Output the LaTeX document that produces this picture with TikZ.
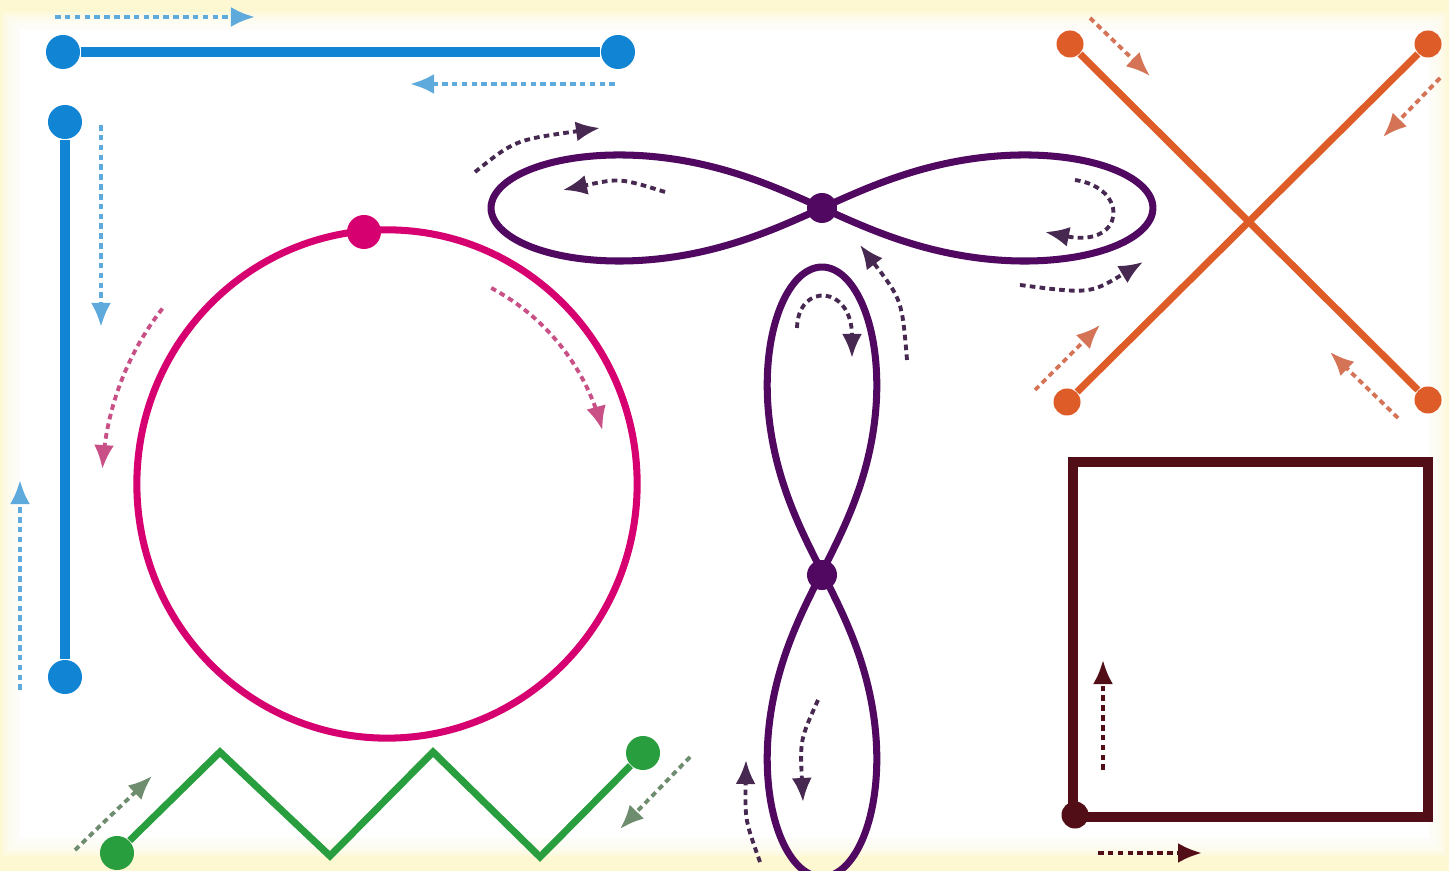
\documentclass[tikz,border=0pt]{standalone}
\usetikzlibrary{arrows.meta}

\definecolor{bgcream}{RGB}{253,247,210}
\definecolor{lineblue}{RGB}{18,132,212}
\definecolor{hintblue}{RGB}{95,170,220}
\definecolor{ringpink}{RGB}{214,0,112}
\definecolor{hintpink}{RGB}{200,80,135}
\definecolor{loopviolet}{RGB}{80,8,96}
\definecolor{hintviolet}{RGB}{70,40,80}
\definecolor{crossorange}{RGB}{222,92,40}
\definecolor{hintorange}{RGB}{212,115,85}
\definecolor{boxbrown}{RGB}{82,14,22}
\definecolor{zigzaggreen}{RGB}{40,158,62}
\definecolor{hintgreen}{RGB}{110,140,110}

\begin{document}
\begin{tikzpicture}[
    x=0.01cm, y=-0.01cm,
    >={Latex[length=2.4mm,width=2mm]},
    dot/.style={circle, fill, inner sep=0pt, minimum size=3.4mm},
    smalldot/.style={circle, fill, inner sep=0pt, minimum size=2.7mm},
    track/.style={line width=2.6pt},
    thintrack/.style={line width=2pt},
    hint/.style={->, line width=1.1pt, dash pattern=on 1.6pt off 1.2pt}
]
\useasboundingbox (0,0) rectangle (1449,871);

% pozadi
\fill[bgcream] (0,0) rectangle (1449,871);
\foreach \i in {0,...,5}
    \fill[white, opacity=0.3] ({2+3*\i},{12+3*\i}) rectangle ({1447-3*\i},{856-3*\i});
\fill[white] (20,30) rectangle (1429,838);

% modre usecky
\node[dot, lineblue] (h1) at (63,52) {};
\node[dot, lineblue] (h2) at (618,52) {};
\draw[track, lineblue] (h1) -- (h2);
\node[dot, lineblue] (v1) at (65,122) {};
\node[dot, lineblue] (v2) at (65,677) {};
\draw[track, lineblue] (v1) -- (v2);

\draw[hint, hintblue] (55,17) -- (255,17);
\draw[hint, hintblue] (615,84) -- (410,84);
\draw[hint, hintblue] (101,125) -- (101,327);
\draw[hint, hintblue] (20,690) -- (20,480);

% kruznice
\draw[thintrack, ringpink] (387,484) ellipse [x radius=2.5cm, y radius=2.54cm];
\node[dot, ringpink] (c1) at (364,232) {};
\draw[hint, hintpink] plot[domain=142:177, samples=25]
    ({387+285*cos(\x)}, {484-285*sin(\x)});
\draw[hint, hintpink, <-] plot[domain=14:62, samples=25]
    ({387+222*cos(\x)}, {484-222*sin(\x)});

% vodorovna osmicka
\draw[thintrack, loopviolet] plot[domain=0:360, samples=160, smooth]
    ({822+331*cos(\x)/(1+sin(\x)^2)}, {208+150*sin(\x)*cos(\x)/(1+sin(\x)^2)});
\node[smalldot, loopviolet, minimum size=3mm] (e1) at (822,208) {};
\draw[hint, hintviolet] (475,172) .. controls (515,140) .. (600,128);
\draw[hint, hintviolet] (665,192) .. controls (620,178) .. (563,190);
\draw[hint, hintviolet] (1075,180) .. controls (1130,188) and (1125,248) .. (1045,232);
\draw[hint, hintviolet] (1020,285) .. controls (1090,294) .. (1143,262);

% svisla osmicka
\draw[thintrack, loopviolet] plot[domain=0:360, samples=160, smooth]
    ({822+155*sin(\x)*cos(\x)/(1+sin(\x)^2)}, {572+305*cos(\x)/(1+sin(\x)^2)});
\node[smalldot, loopviolet, minimum size=3mm] (e2) at (822,575) {};
\draw[hint, hintviolet] (907,360) .. controls (902,300) .. (860,245);
\draw[hint, hintviolet] (797,328) .. controls (798,282) and (852,285) .. (852,358);
\draw[hint, hintviolet] (818,700) .. controls (800,740) .. (803,802);
\draw[hint, hintviolet] (760,862) .. controls (745,820) .. (746,760);

% krizek
\node[smalldot, crossorange] (o1) at (1070,44) {};
\node[smalldot, crossorange] (o2) at (1428,400) {};
\node[smalldot, crossorange] (o3) at (1428,44) {};
\node[smalldot, crossorange] (o4) at (1067,402) {};
\draw[thintrack, crossorange] (o1) -- (o2);
\draw[thintrack, crossorange] (o3) -- (o4);
\draw[hint, hintorange] (1090,18) -- (1150,76);
\draw[hint, hintorange] (1440,78) -- (1383,137);
\draw[hint, hintorange] (1035,390) -- (1100,325);
\draw[hint, hintorange] (1398,418) -- (1330,352);

% ctverec
\draw[track, boxbrown] (1073,462) rectangle (1428,817);
\node[smalldot, boxbrown] (s1) at (1075,815) {};
\draw[hint, boxbrown] (1103,770) -- (1103,660);
\draw[hint, boxbrown] (1098,853) -- (1202,853);

% cik-cak
\node[dot, zigzaggreen] (g1) at (117,853) {};
\node[dot, zigzaggreen] (g2) at (643,753) {};
\coordinate (z1) at (220,752);
\coordinate (z2) at (330,856);
\coordinate (z3) at (433,752);
\coordinate (z4) at (540,857);
\draw[thintrack, zigzaggreen, line join=miter] (g1) -- (z1) -- (z2) -- (z3) -- (z4) -- (g2);
\draw[hint, hintgreen] (75,850) -- (152,776);
\draw[hint, hintgreen] (690,757) -- (620,829);

\end{tikzpicture}
\end{document}
